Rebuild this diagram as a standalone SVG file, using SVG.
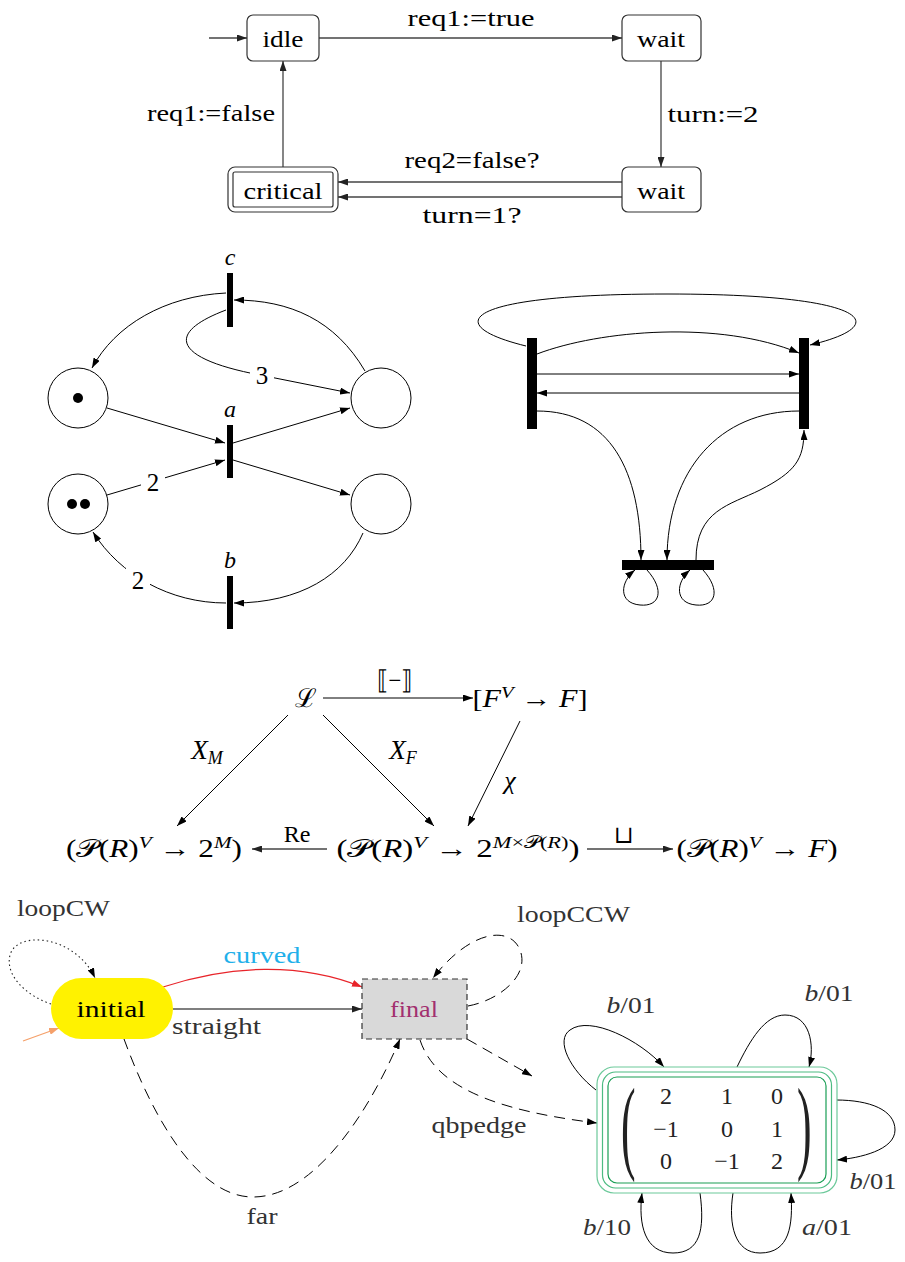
<svg xmlns="http://www.w3.org/2000/svg" width="905" height="1262" viewBox="0 0 905 1262">
<style>
.t{font-family:"Liberation Serif","DejaVu Serif",serif;font-size:23px;fill:#000}
.m{text-anchor:middle}
.r{text-anchor:end}
.i{font-style:italic}
.g{fill:#333}
.e{fill:none;stroke:#000;stroke-width:1}
.eg{fill:none;stroke:#444;stroke-width:1.3}
.box{fill:#fff;stroke:#333;stroke-width:1.2}
.bar{fill:#000}
.pl{fill:#fff;stroke:#000;stroke-width:1}
.dash{stroke-dasharray:11,7}
.lbg{fill:#fff}
.lab{font-size:25px}
.lbl{font-size:24px}
.mt{font-size:25px}
</style>
<defs>
<marker id="ah" viewBox="0 0 10 7" refX="10" refY="3.5" markerWidth="10" markerHeight="7" markerUnits="userSpaceOnUse" orient="auto"><path d="M0,0 L10,3.5 L0,7 z" fill="#000"/></marker>
<marker id="ahg" viewBox="0 0 10 7" refX="10" refY="3.5" markerWidth="10" markerHeight="7" markerUnits="userSpaceOnUse" orient="auto"><path d="M0,0 L10,3.5 L0,7 z" fill="#222"/></marker>
<marker id="ahr" viewBox="0 0 10 7" refX="10" refY="3.5" markerWidth="10" markerHeight="7" markerUnits="userSpaceOnUse" orient="auto"><path d="M0,0 L10,3.5 L0,7 z" fill="#e8242a"/></marker>
<marker id="aho" viewBox="0 0 10 7" refX="10" refY="3.5" markerWidth="10" markerHeight="7" markerUnits="userSpaceOnUse" orient="auto"><path d="M0,0 L10,3.5 L0,7 z" fill="#f5a06a"/></marker>
</defs>

<!-- ===== Top automaton ===== -->
<g id="connectors-top">
<path class="eg" d="M209 38 H247" marker-end="url(#ahg)"/>
<path class="eg" d="M319 38 H622" marker-end="url(#ahg)"/>
<path class="eg" d="M661 61 V167" marker-end="url(#ahg)"/>
<path class="eg" d="M622 182 H338" marker-end="url(#ahg)"/>
<path class="eg" d="M622 197 H338" marker-end="url(#ahg)"/>
<path class="eg" d="M283 167 V61" marker-end="url(#ahg)"/>
<text class="t m" x="471" y="26" textLength="127" lengthAdjust="spacingAndGlyphs">req1:=true</text>
<text class="t m" x="713" y="122" textLength="91" lengthAdjust="spacingAndGlyphs">turn:=2</text>
<text class="t m" x="472" y="168" textLength="135" lengthAdjust="spacingAndGlyphs">req2=false?</text>
<text class="t m" x="472" y="223" textLength="99" lengthAdjust="spacingAndGlyphs">turn=1?</text>
<text class="t" x="147" y="121" textLength="128" lengthAdjust="spacingAndGlyphs">req1:=false</text>
</g>
<g id="idle"><rect class="box" x="247" y="15" width="72" height="46" rx="6"/><text class="t m" x="283" y="47" textLength="41" lengthAdjust="spacingAndGlyphs">idle</text></g>
<g id="wait1"><rect class="box" x="622" y="15" width="79" height="46" rx="6"/><text class="t m" x="661" y="47" textLength="48" lengthAdjust="spacingAndGlyphs">wait</text></g>
<g id="wait2"><rect class="box" x="622" y="167" width="79" height="45" rx="6"/><text class="t m" x="661" y="199" textLength="48" lengthAdjust="spacingAndGlyphs">wait</text></g>
<g id="critical"><rect class="box" x="228" y="167" width="110" height="45" rx="7"/><rect class="box" x="233" y="172" width="100" height="35" rx="2"/><text class="t m" x="283" y="199" textLength="79" lengthAdjust="spacingAndGlyphs">critical</text></g>

<!-- ===== Left Petri net ===== -->
<g id="connectors-petri1">
<path class="e" d="M226 293 C165 296 115 325 92 368" marker-end="url(#ah)"/>
<path class="e" d="M365 371 C335 320 290 300 234 300" marker-end="url(#ah)"/>
<path class="e" d="M226 310 C160 335 180 360 260 375 L350 393" marker-end="url(#ah)"/>
<path class="e" d="M107 408 L225 443" marker-end="url(#ah)"/>
<path class="e" d="M233 443 L350 408" marker-end="url(#ah)"/>
<path class="e" d="M233 460 L350 495" marker-end="url(#ah)"/>
<path class="e" d="M107 495 L225 460" marker-end="url(#ah)"/>
<path class="e" d="M363 533 C345 575 300 603 234 603" marker-end="url(#ah)"/>
<path class="e" d="M226 603 C170 603 120 575 93 532" marker-end="url(#ah)"/>
<rect class="lbg" x="250" y="362" width="24" height="26"/>
<text class="t m lab" x="262" y="384">3</text>
<rect class="lbg" x="141" y="470" width="24" height="26"/>
<text class="t m lab" x="153" y="491">2</text>
<rect class="lbg" x="126" y="567" width="24" height="26"/>
<text class="t m lab" x="138" y="589">2</text>
</g>
<g id="t-c"><rect class="bar" x="227" y="273" width="6" height="54"/><text class="t m i lbl" x="230" y="265">c</text></g>
<g id="t-a"><rect class="bar" x="227" y="425" width="6" height="53"/><text class="t m i lbl" x="230" y="417">a</text></g>
<g id="t-b"><rect class="bar" x="227" y="576" width="6" height="53"/><text class="t m i lbl" x="230" y="568">b</text></g>
<g id="p1"><circle class="pl" cx="78" cy="398" r="30"/><circle cx="78" cy="398" r="5"/></g>
<g id="p2"><circle class="pl" cx="78" cy="504" r="30"/><circle cx="72" cy="504" r="5"/><circle cx="85" cy="504" r="5"/></g>
<g id="p3"><circle class="pl" cx="381" cy="398" r="30"/></g>
<g id="p4"><circle class="pl" cx="381" cy="504" r="30"/></g>

<!-- ===== Right Petri net ===== -->
<g id="connectors-petri2">
<path class="e" d="M526 346 C440 325 460 294 667 294 C870 294 895 325 810 345" marker-end="url(#ah)"/>
<path class="e" d="M537 354 C600 330 720 320 799 353" marker-end="url(#ah)"/>
<path class="e" d="M537 374 H799" marker-end="url(#ah)"/>
<path class="e" d="M799 393 H537" marker-end="url(#ah)"/>
<path class="e" d="M537 411 C610 411 641 470 641 560" marker-end="url(#ah)"/>
<path class="e" d="M799 411 C720 411 667 470 667 560" marker-end="url(#ah)"/>
<path class="e" d="M696 560 C696 510 730 505 760 490 C795 472 804 460 804 430" marker-end="url(#ah)"/>
<path class="e" d="M647 570 C665 590 660 607 640 605 C618 603 620 582 635 570" marker-end="url(#ah)"/>
<path class="e" d="M703 570 C721 590 716 607 696 605 C674 603 676 582 690 570" marker-end="url(#ah)"/>
</g>
<g id="tr-left"><rect class="bar" x="527" y="338" width="10" height="91"/></g>
<g id="tr-right"><rect class="bar" x="799" y="338" width="10" height="91"/></g>
<g id="tr-bottom"><rect class="bar" x="622" y="560" width="92" height="10"/></g>

<!-- ===== Commutative diagram ===== -->
<g id="connectors-cd">
<path class="e" d="M323 698 H473" marker-end="url(#ah)"/>
<path class="e" d="M288 715 L177 826" marker-end="url(#ah)"/>
<path class="e" d="M323 715 L434 826" marker-end="url(#ah)"/>
<path class="e" d="M520 721 L468 826" marker-end="url(#ah)"/>
<path class="eg" d="M327 849 H252" marker-end="url(#ahg)"/>
<path class="eg" d="M587 849 H673" marker-end="url(#ahg)"/>
<text class="t m" style="font-size:26px" x="395" y="689" textLength="36" lengthAdjust="spacingAndGlyphs">⟦−⟧</text>
<text class="t m i" style="font-size:27px" x="207" y="759">X<tspan style="font-size:18px" dy="5">M</tspan></text>
<text class="t m i" style="font-size:27px" x="403" y="759">X<tspan style="font-size:18px" dy="5">F</tspan></text>
<text class="t m i" style="font-size:26px" x="510" y="789">χ</text>
<text class="t m" style="font-size:24px" x="297" y="842">Re</text>
<text class="t m" style="font-size:24px" x="624" y="843">⊔</text>
</g>
<g id="cd-L"><text class="t m" style="font-size:26px" x="306" y="707">ℒ</text></g>
<g id="cd-F"><text class="t m mt" x="530" y="707" textLength="115" lengthAdjust="spacingAndGlyphs">[<tspan class="i">F</tspan><tspan class="i" style="font-size:17px" dy="-9">V</tspan><tspan dy="9"> → </tspan><tspan class="i">F</tspan>]</text></g>
<g id="cd-2M"><text class="t m mt" x="154" y="857" textLength="176" lengthAdjust="spacingAndGlyphs">(𝒫(<tspan class="i">R</tspan>)<tspan class="i" style="font-size:17px" dy="-9">V</tspan><tspan dy="9"> → 2</tspan><tspan class="i" style="font-size:17px" dy="-9">M</tspan><tspan dy="9">)</tspan></text></g>
<g id="cd-2MP"><text class="t m mt" x="458" y="857" textLength="243" lengthAdjust="spacingAndGlyphs">(𝒫(<tspan class="i">R</tspan>)<tspan class="i" style="font-size:17px" dy="-9">V</tspan><tspan dy="9"> → 2</tspan><tspan style="font-size:17px" dy="-9"><tspan class="i">M</tspan>×𝒫(<tspan class="i">R</tspan>)</tspan><tspan dy="9">)</tspan></text></g>
<g id="cd-PF"><text class="t m mt" x="757" y="857" textLength="161" lengthAdjust="spacingAndGlyphs">(𝒫(<tspan class="i">R</tspan>)<tspan class="i" style="font-size:17px" dy="-9">V</tspan><tspan dy="9"> → </tspan><tspan class="i">F</tspan>)</text></g>

<!-- ===== Bottom automaton ===== -->
<g id="connectors-bottom">
<path fill="none" stroke="#222" stroke-width="1.1" stroke-dasharray="1.5,3" d="M51 1004 C25 995 5 975 10 955 C17 930 75 935 95 978" marker-end="url(#ah)"/>
<path fill="none" stroke="#f5a06a" stroke-width="1.2" d="M23 1041 L59 1028" marker-end="url(#aho)"/>
<path fill="none" stroke="#e8242a" stroke-width="1.2" d="M163 987 C230 965 300 962 362 987" marker-end="url(#ahr)"/>
<path fill="none" stroke="#555" stroke-width="1.5" d="M173 1009 H362" marker-end="url(#ahg)"/>
<path class="e dash" d="M468 1006 C500 1000 530 975 520 950 C510 925 470 930 433 978" marker-end="url(#ah)"/>
<path class="e dash" d="M124 1039 C150 1110 195 1197 253 1197 C315 1197 370 1110 400 1039" marker-end="url(#ah)"/>
<path class="e dash" d="M467 1039 L532 1076" marker-end="url(#ah)"/>
<path class="e dash" d="M420 1040 C435 1085 490 1110 597 1123" marker-end="url(#ah)"/>
<path class="e" d="M596 1090 C570 1070 555 1040 570 1030 C590 1015 640 1040 664 1067" marker-end="url(#ah)"/>
<path class="e" d="M737 1067 C750 1040 765 1015 785 1015 C810 1015 815 1045 809 1067" marker-end="url(#ah)"/>
<path class="e" d="M836 1100 C870 1100 895 1110 895 1130 C895 1150 860 1158 837 1160" marker-end="url(#ah)"/>
<path class="e" d="M700 1193 C705 1230 700 1253 673 1253 C645 1253 638 1225 642 1193" marker-end="url(#ah)"/>
<path class="e" d="M733 1193 C728 1225 735 1253 760 1253 C790 1253 793 1225 791 1193" marker-end="url(#ah)"/>
<text class="t g" x="17" y="916" textLength="93" lengthAdjust="spacingAndGlyphs">loopCW</text>
<text class="t m" x="262" y="963" style="fill:#1fb0ea" textLength="77" lengthAdjust="spacingAndGlyphs">curved</text>
<text class="t g" x="172" y="1034" textLength="89" lengthAdjust="spacingAndGlyphs">straight</text>
<text class="t g" x="517" y="922" textLength="113" lengthAdjust="spacingAndGlyphs">loopCCW</text>
<text class="t g m lbl" x="262" y="1224" textLength="31" lengthAdjust="spacingAndGlyphs">far</text>
<text class="t g m" x="479" y="1133" textLength="95" lengthAdjust="spacingAndGlyphs">qbpedge</text>
<text class="t g m lbl" x="631" y="1013" textLength="49" lengthAdjust="spacingAndGlyphs"><tspan class="i">b</tspan>/01</text>
<text class="t g m lbl" x="829" y="1001" textLength="49" lengthAdjust="spacingAndGlyphs"><tspan class="i">b</tspan>/01</text>
<text class="t g m lbl" x="873" y="1189" textLength="47" lengthAdjust="spacingAndGlyphs"><tspan class="i">b</tspan>/01</text>
<text class="t g m lbl" x="607" y="1235" textLength="48" lengthAdjust="spacingAndGlyphs"><tspan class="i">b</tspan>/10</text>
<text class="t g m lbl" x="827" y="1235" textLength="50" lengthAdjust="spacingAndGlyphs"><tspan class="i">a</tspan>/01</text>
</g>
<g id="initial"><rect x="51" y="978" width="122" height="61" rx="30.5" fill="#fff200"/><text class="t m" style="font-size:24px" x="111" y="1017" textLength="69" lengthAdjust="spacingAndGlyphs">initial</text></g>
<g id="final"><rect x="362" y="979" width="105" height="60" fill="#d9d9d9" stroke="#333" stroke-width="1.2" stroke-dasharray="6,4"/><text class="t m" x="414" y="1017" style="fill:#a2306f;font-size:24px" textLength="48" lengthAdjust="spacingAndGlyphs">final</text></g>
<g id="matrix">
<rect x="597" y="1067" width="240" height="126" rx="17" fill="#fff" stroke="#6cc99a" stroke-width="1.2"/>
<rect x="602.5" y="1072" width="229" height="116" rx="13" fill="none" stroke="#4cbb82" stroke-width="1.2"/>
<rect x="608" y="1077" width="218" height="106" rx="9" fill="none" stroke="#1a9e55" stroke-width="1.2"/>
<text class="t" transform="translate(621,1160) scale(0.42,1)" style="font-size:104px;fill:#222">(</text>
<text class="t" transform="translate(797,1160) scale(0.42,1)" style="font-size:104px;fill:#222">)</text>
<text class="t m lbl" style="fill:#222" x="666" y="1104">2</text>
<text class="t m lbl" style="fill:#222" x="727" y="1104">1</text>
<text class="t m lbl" style="fill:#222" x="777" y="1104">0</text>
<text class="t m lbl" style="fill:#222" x="666" y="1137">−1</text>
<text class="t m lbl" style="fill:#222" x="727" y="1137">0</text>
<text class="t m lbl" style="fill:#222" x="777" y="1137">1</text>
<text class="t m lbl" style="fill:#222" x="666" y="1169">0</text>
<text class="t m lbl" style="fill:#222" x="727" y="1169">−1</text>
<text class="t m lbl" style="fill:#222" x="777" y="1169">2</text>
</g>
</svg>
